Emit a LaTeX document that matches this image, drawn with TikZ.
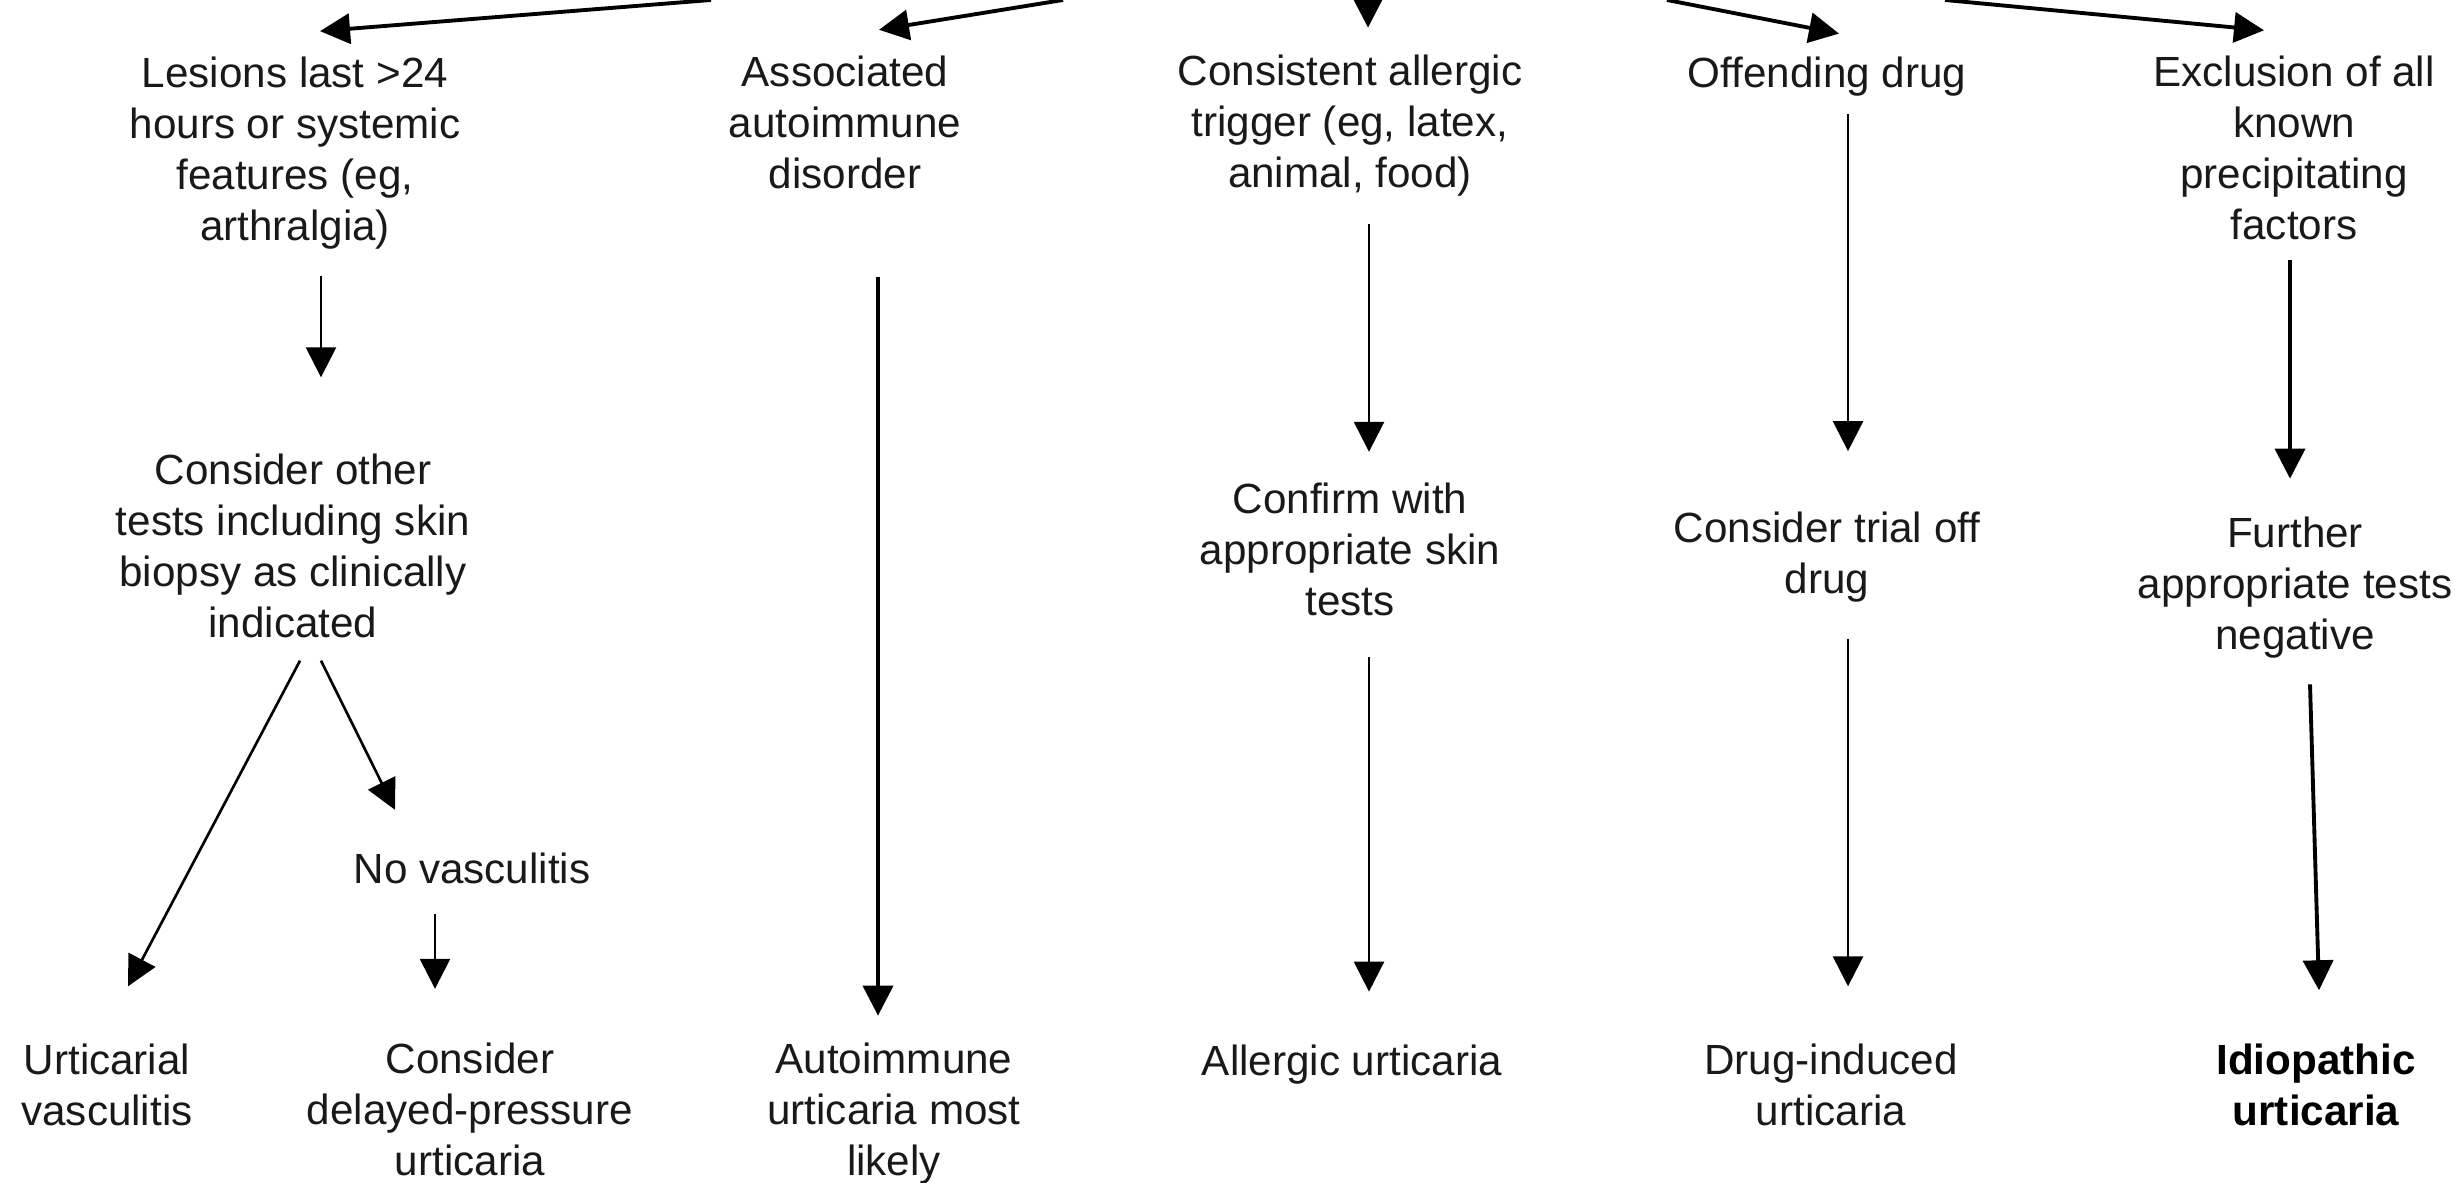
\documentclass[tikz,border=0pt]{standalone}
\usepackage{fontspec}
\setmainfont{Liberation Sans}
\usetikzlibrary{arrows.meta, calc}

\begin{document}
\begin{tikzpicture}[
    x=0.01cm, y=-0.01cm,
    txt/.style={align=center, inner sep=0pt, text=black!90,
                font=\fontsize{12}{14.5}\selectfont},
    boldtxt/.style={txt, text=black, font=\fontsize{12}{14.5}\selectfont\bfseries},
    arrow/.style={-{Triangle[width=0.3cm, length=0.3cm]}, line width=0.75pt},
    bigarrow/.style={arrow, line width=1.1pt}
  ]
  \useasboundingbox (0,0) rectangle (2461,1183);

  % first row
  \node[txt] (lesion)  at (295,153)  {Lesions last >24\\hours or systemic\\features (eg,\\arthralgia)};
  \node[txt] (assoc)   at (845,122)  {Associated\\autoimmune\\disorder};
  \node[txt] (trigger) at (1350,126) {Consistent allergic\\trigger (eg, latex,\\animal, food)};
  \node[txt] (offend)  at (1827,77)  {Offending drug};
  \node[txt] (exclude) at (2294,148) {Exclusion of all\\known\\precipitating\\factors};

  % middle row
  \node[txt] (other)   at (293,546)  {Consider other\\tests including skin\\biopsy as clinically\\indicated};
  \node[txt] (novasc)  at (472,868)  {No vasculitis};
  \node[txt] (confirm) at (1350,549) {Confirm with\\appropriate skin\\tests};
  \node[txt] (trial)   at (1827,557) {Consider trial off\\drug};
  \node[txt] (further) at (2295,588) {Further\\appropriate tests\\negative};

  % outcomes
  \node[txt] (urtvasc) at (107,1085)  {Urticarial\\vasculitis};
  \node[txt] (delayed) at (470,1109)  {Consider\\delayed-pressure\\urticaria};
  \node[txt] (autourt) at (894,1114)  {Autoimmune\\urticaria most\\likely};
  \node[txt] (allurt)  at (1352,1065) {Allergic urticaria};
  \node[txt] (drugurt) at (1831,1085) {Drug-induced\\urticaria};
  \node[boldtxt] (idiourt) at (2316,1085) {Idiopathic\\urticaria};

  % arrows coming in from above
  \coordinate (top1) at (711,0);
  \coordinate (top2) at (1063,0);
  \coordinate (top3) at (1368,0);
  \coordinate (top4) at (1667,0);
  \coordinate (top5) at (1945,0);
  \draw[bigarrow] (top1) -- ($(lesion.north)+(25,-25)$);
  \draw[bigarrow] (top2) -- ($(assoc.north)+(34,-25)$);
  \draw[bigarrow] (top3) -- ($(trigger.north)+(18,-27)$);
  \draw[bigarrow] (top4) -- ($(offend.north)+(12,-23)$);
  \draw[bigarrow] (top5) -- ($(exclude.north)+(-30,-25)$);

  % columns
  \draw[arrow] ($(lesion.south)+(26,26)$) -- ($(other.north)+(28,-76)$);
  \draw[arrow] ($(other.south)+(7,22)$)   -- ($(urtvasc.north)+(21,-57)$);
  \draw[arrow] ($(other.south)+(28,22)$)  -- ($(novasc.north)+(-77,-42)$);
  \draw[arrow] ($(novasc.south)+(-37,30)$) -- ($(delayed.north)+(-35,-53)$);
  \draw[bigarrow] ($(assoc.south)+(33,88)$) -- ($(autourt.north)+(-16,-27)$);
  \draw[arrow] ($(trigger.south)+(19,27)$) -- ($(confirm.north)+(19,-30)$);
  \draw[arrow] ($(confirm.south)+(19,41)$) -- ($(allurt.north)+(17,-53)$);
  \draw[arrow] ($(offend.south)+(21,17)$)  -- ($(trial.north)+(21,-60)$);
  \draw[arrow] ($(trial.south)+(21,36)$)   -- ($(drugurt.north)+(17,-57)$);
  \draw[bigarrow] ($(exclude.south)+(-4,19)$) -- ($(further.north)+(-5,-38)$);
  \draw[bigarrow] ($(further.south)+(15,25)$) -- ($(idiourt.north)+(3,-53)$);
\end{tikzpicture}
\end{document}
